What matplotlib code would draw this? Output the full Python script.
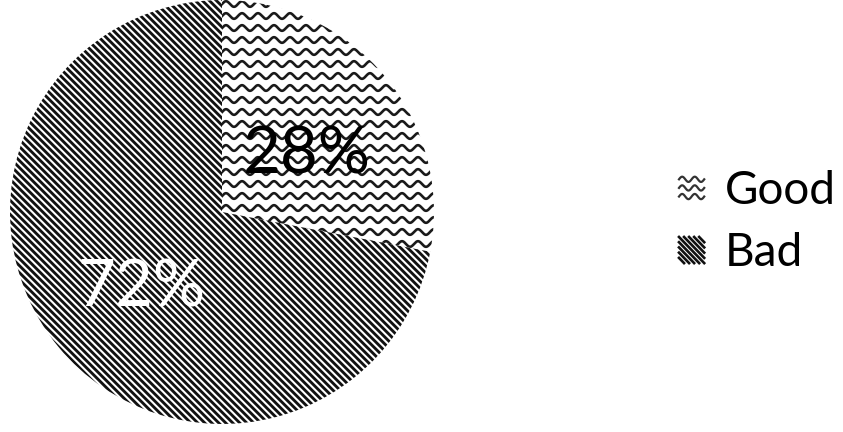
import numpy as np
import matplotlib
matplotlib.use("Agg")
import matplotlib.pyplot as plt
from matplotlib.legend_handler import HandlerBase
from matplotlib.lines import Line2D

labels = ["Good", "Bad"]
shares = [28, 72]
pct_labels = ["28%", "72%"]

plt.rcParams["font.family"] = ["Lato", "DejaVu Sans"]

W, H = 843, 432
fig = plt.figure(figsize=(W / 100, H / 100), dpi=100)
fig.patch.set_facecolor("white")

# pie box in pixels: centre (222, 212), radius 212
cx, cy, r = 222, 212, 212
ax = fig.add_axes([(cx - r) / W, (H - cy - r) / H, 2 * r / W, 2 * r / H])

wedges, _ = ax.pie(shares, startangle=90, counterclock=False, radius=1,
                   colors=["white", "white"], wedgeprops=dict(linewidth=0))

px = 1.0 / r  # data units per pixel

# wavy fill for the "Good" slice
xs = np.linspace(-1, 1, 1200)
period, amp, gap = 16 * px, 2.8 * px, 12 * px
for y0 in np.arange(-1, 1.05, gap):
    ln, = ax.plot(xs, y0 + amp * np.sin(2 * np.pi * xs / period),
                  color="#1a1a1a", lw=1.9)
    ln.set_clip_path(wedges[0])

# diagonal stripes for the "Bad" slice
step = 7 * px
for c in np.arange(-2.1, 2.1, step):
    ln, = ax.plot([-1.1, 1.1], [c + 1.1, c - 1.1], color="#111111", lw=2.05,
                  solid_capstyle="butt")
    ln.set_clip_path(wedges[1])

ax.text(0.40, 0.27, pct_labels[0], fontsize=47, color="black", ha="center", va="center")
ax.text(-0.38, -0.36, pct_labels[1], fontsize=47, color="white", ha="center", va="center")

ax.set_xlim(-1, 1)
ax.set_ylim(-1, 1)
ax.set_aspect("equal")
ax.axis("off")


class WaveHandler(HandlerBase):
    def create_artists(self, legend, orig_handle, xdescent, ydescent,
                       width, height, fontsize, trans):
        arts = []
        x = np.linspace(-xdescent, -xdescent + width, 60)
        for k in range(3):
            y = -ydescent + height * (0.15 + 0.33 * k) + 0.1 * height * np.sin(2 * np.pi * x / (width / 2))
            arts.append(Line2D(x, y, transform=trans, color="#333333", lw=1.6))
        return arts


class StripeHandler(HandlerBase):
    def create_artists(self, legend, orig_handle, xdescent, ydescent,
                       width, height, fontsize, trans):
        arts = []
        x0, y0 = -xdescent, -ydescent
        n = 5
        for k in range(-n + 1, n):
            t = k / n
            xa, ya = x0 + max(t, 0) * width, y0 + height - max(-t, 0) * height
            xb, yb = x0 + min(1 + t, 1) * width, y0 + height - min(1 - t, 1) * height
            arts.append(Line2D([xa, xb], [ya, yb], transform=trans, color="#111111", lw=1.9))
        return arts


leg = fig.legend(wedges, labels, loc="center left", bbox_to_anchor=(679 / W, 1 - 222 / H),
                 frameon=False, fontsize=33, handlelength=0.55, handleheight=0.5,
                 handletextpad=0.45, labelspacing=0.45, borderpad=0, borderaxespad=0,
                 handler_map={wedges[0]: WaveHandler(), wedges[1]: StripeHandler()})

fig.savefig("out.png", dpi=100, facecolor="white")
